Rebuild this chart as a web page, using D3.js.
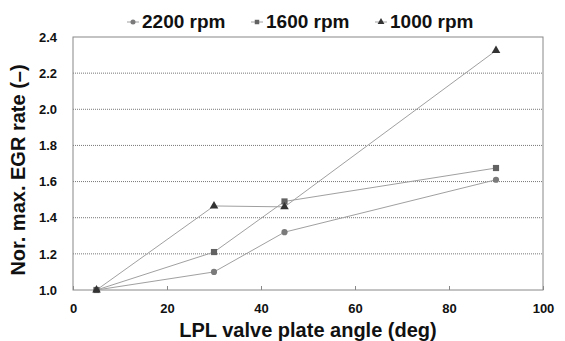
<!DOCTYPE html>
<html>
<head>
<meta charset="utf-8">
<script src="https://d3js.org/d3.v7.min.js"></script>
<style>
  body { margin: 0; background: #fff; }
  text { font-family: Arial, "Liberation Sans", sans-serif; font-weight: bold; }
</style>
</head>
<body>
<div id="chart"></div>
<script>
var angles = [5, 30, 45, 90];
var rpm2200 = [1.0, 1.10, 1.32, 1.61];
var rpm1600 = [1.0, 1.21, 1.49, 1.675];
var rpm1000 = [1.0, 1.465, 1.46, 2.325];
var xTicks = [0, 20, 40, 60, 80, 100];
var yTicks = [1.0, 1.2, 1.4, 1.6, 1.8, 2.0, 2.2, 2.4];

var series = [
  {name: "2200 rpm", values: rpm2200, shape: d3.symbolCircle, color: "#7a7a7a", size: 30},
  {name: "1600 rpm", values: rpm1600, shape: d3.symbolSquare, color: "#626262", size: 38},
  {name: "1000 rpm", values: rpm1000, shape: d3.symbolTriangle, color: "#333333", size: 32}
];

var width = 565, height = 341;
var margin = {top: 37, right: 22, bottom: 51, left: 73};

var svg = d3.select("#chart").append("svg")
  .attr("width", width)
  .attr("height", height);

var x = d3.scaleLinear().domain([0, 100]).range([margin.left, width - margin.right]);
var y = d3.scaleLinear().domain([1.0, 2.4]).range([height - margin.bottom, margin.top]);

// gridlines
svg.append("g").selectAll("line")
  .data(yTicks.slice(1, -1))
  .enter().append("line")
  .attr("x1", x(0)).attr("x2", x(100))
  .attr("y1", function(d) { return y(d); })
  .attr("y2", function(d) { return y(d); })
  .attr("stroke", "#777")
  .attr("stroke-width", 1)
  .attr("stroke-dasharray", "1,1");

// frame
svg.append("rect")
  .attr("x", x(0)).attr("y", y(2.4))
  .attr("width", x(100) - x(0))
  .attr("height", y(1.0) - y(2.4))
  .attr("fill", "none")
  .attr("stroke", "#888")
  .attr("stroke-width", 1);

// x axis
var xAxis = svg.append("g")
  .attr("transform", "translate(0," + y(1.0) + ")")
  .call(d3.axisBottom(x).tickValues(xTicks).tickSizeInner(-4).tickSizeOuter(0).tickPadding(14));
xAxis.select(".domain").remove();
xAxis.selectAll("line").attr("stroke", "#888");
xAxis.selectAll("text").attr("font-size", 13).attr("fill", "#111");

// y axis
var yAxis = svg.append("g")
  .attr("transform", "translate(" + x(0) + ",0)")
  .call(d3.axisLeft(y).tickValues(yTicks).tickFormat(d3.format(".1f")).tickSize(0).tickPadding(16));
yAxis.select(".domain").remove();
yAxis.selectAll("text").attr("font-size", 13).attr("fill", "#111");

// lines
var line = d3.line()
  .x(function(d) { return x(d[0]); })
  .y(function(d) { return y(d[1]); });

series.forEach(function(s) {
  var pts = angles.map(function(a, i) { return [a, s.values[i]]; });
  svg.append("path")
    .datum(pts)
    .attr("d", line)
    .attr("fill", "none")
    .attr("stroke", "#a0a0a0")
    .attr("stroke-width", 1);
});

series.forEach(function(s) {
  var pts = angles.map(function(a, i) { return [a, s.values[i]]; });
  svg.append("g").selectAll("path")
    .data(pts)
    .enter().append("path")
    .attr("transform", function(d) { return "translate(" + x(d[0]) + "," + y(d[1]) + ")"; })
    .attr("d", d3.symbol().type(s.shape).size(s.size))
    .attr("fill", s.color);
});

// axis titles
svg.append("text")
  .attr("x", (x(0) + x(100)) / 2)
  .attr("y", 337)
  .attr("text-anchor", "middle")
  .attr("font-size", 20)
  .attr("fill", "#111")
  .text("LPL valve plate angle (deg)");

svg.append("text")
  .attr("transform", "translate(25,170) rotate(-90)")
  .attr("text-anchor", "middle")
  .attr("font-size", 20)
  .attr("fill", "#111")
  .text("Nor. max. EGR rate (\u2013)");

// legend
var legendX = [133, 257, 381];
series.forEach(function(s, i) {
  var g = svg.append("g").attr("transform", "translate(" + legendX[i] + ",22)");
  g.append("line").attr("x1", -6).attr("x2", 6).attr("stroke", "#a0a0a0");
  g.append("path")
    .attr("d", d3.symbol().type(s.shape).size(20))
    .attr("fill", s.color);
  g.append("text")
    .attr("x", 9)
    .attr("y", 6)
    .attr("font-size", 19)
    .attr("fill", "#111")
    .text(s.name);
});
</script>
</body>
</html>
